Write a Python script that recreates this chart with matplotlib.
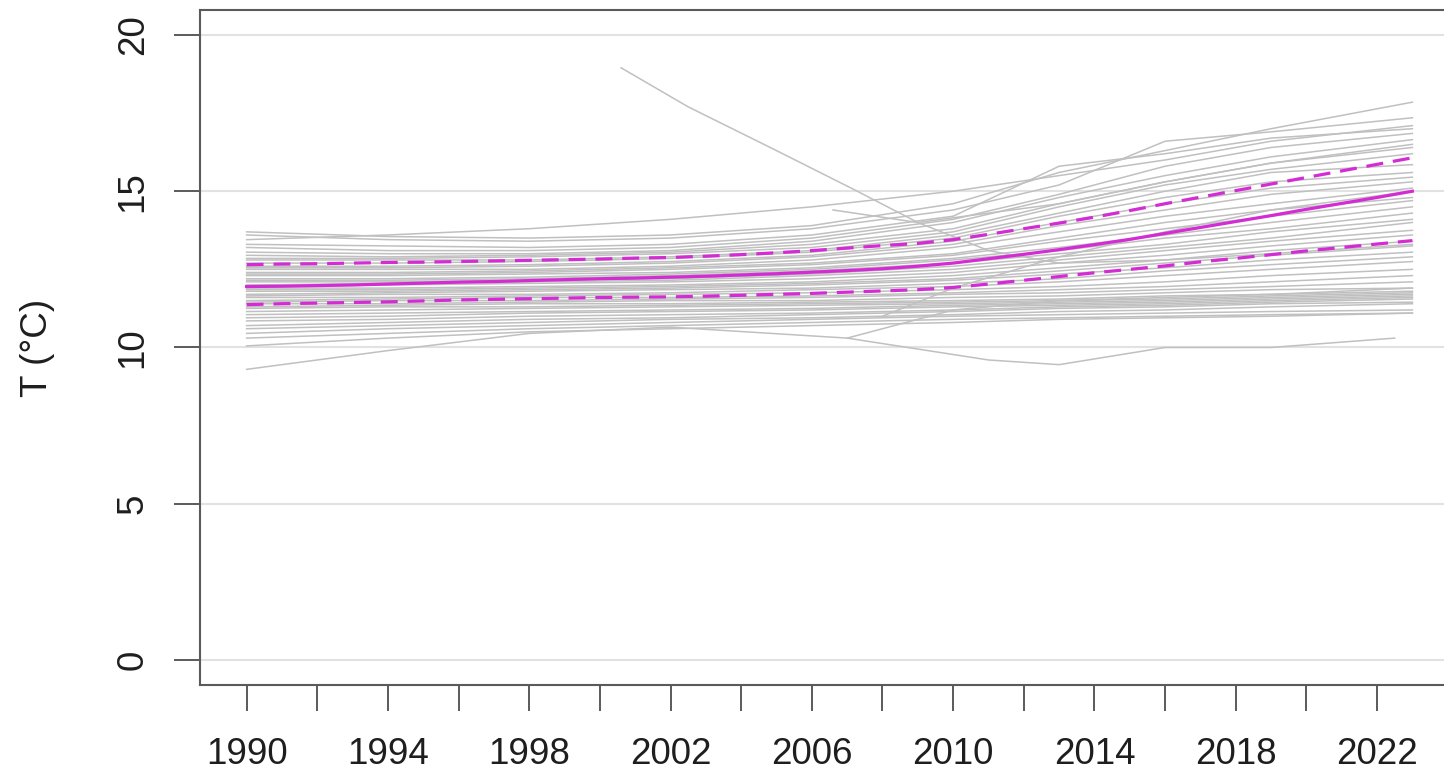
# plot.py
# Station temperature curves (grey) with the mean curve and its band (magenta).

import numpy as np
import matplotlib.pyplot as plt

plt.rcParams['font.family'] = ['Liberation Sans', 'DejaVu Sans']

# Knot years shared by the stations that cover the whole period.
knot_years = [1990, 1994, 1998, 2002, 2006, 2010, 2013, 2016, 2019, 2023]

# Smoothed station temperatures (deg C), one row per station.
station_temps = [
    [13.70, 13.55, 13.50, 13.60, 13.90, 14.60, 15.60, 16.30, 17.00, 17.85],
    [13.60, 13.45, 13.40, 13.50, 13.80, 14.40, 15.20, 16.60, 16.90, 17.35],
    [13.45, 13.60, 13.80, 14.10, 14.50, 15.00, 15.50, 16.00, 16.60, 17.10],
    [13.30, 13.25, 13.20, 13.30, 13.60, 14.20, 15.80, 16.20, 16.70, 17.00],
    [13.20, 13.10, 13.10, 13.20, 13.50, 14.10, 14.90, 15.80, 16.40, 16.85],
    [13.05, 13.00, 13.00, 13.10, 13.40, 14.00, 14.80, 15.50, 16.10, 16.65],
    [12.95, 12.90, 12.95, 13.05, 13.30, 13.80, 14.60, 15.30, 15.90, 16.50],
    [12.85, 12.85, 12.90, 13.00, 13.20, 13.70, 14.50, 15.20, 15.70, 16.20],
    [12.80, 12.80, 12.80, 12.90, 13.10, 13.60, 14.30, 15.00, 15.60, 15.85],
    [12.70, 12.70, 12.75, 12.85, 13.05, 13.50, 14.20, 14.80, 15.30, 15.60],
    [12.60, 12.60, 12.65, 12.75, 12.95, 13.40, 14.00, 14.60, 15.10, 15.45],
    [12.55, 12.55, 12.60, 12.70, 12.90, 13.30, 13.90, 14.40, 14.90, 15.30],
    [12.50, 12.50, 12.50, 12.60, 12.80, 13.20, 13.70, 14.20, 14.60, 15.10],
    [12.40, 12.40, 12.45, 12.55, 12.70, 13.00, 13.50, 14.00, 14.40, 14.80],
    [12.35, 12.35, 12.40, 12.50, 12.65, 12.95, 13.40, 13.80, 14.20, 14.70],
    [12.30, 12.30, 12.35, 12.40, 12.55, 12.85, 13.20, 13.60, 14.00, 14.50],
    [12.20, 12.20, 12.25, 12.35, 12.50, 12.80, 13.10, 13.50, 13.80, 14.30],
    [12.15, 12.15, 12.20, 12.30, 12.45, 12.70, 13.00, 13.30, 13.70, 14.10],
    [12.10, 12.10, 12.15, 12.20, 12.35, 12.60, 12.90, 13.20, 13.50, 14.00],
    [12.00, 12.05, 12.10, 12.15, 12.30, 12.50, 12.80, 13.10, 13.40, 13.75],
    [11.95, 12.00, 12.05, 12.10, 12.20, 12.40, 12.70, 12.95, 13.25, 13.60],
    [11.90, 11.90, 11.95, 12.00, 12.10, 12.30, 12.55, 12.80, 13.10, 13.40],
    [11.85, 11.85, 11.90, 11.95, 12.05, 12.20, 12.45, 12.70, 12.95, 13.25],
    [11.80, 11.80, 11.85, 11.90, 12.00, 12.15, 12.35, 12.55, 12.80, 13.05],
    [11.70, 11.75, 11.80, 11.85, 11.90, 12.05, 12.20, 12.45, 12.65, 12.90],
    [11.65, 11.70, 11.70, 11.75, 11.85, 11.95, 12.10, 12.30, 12.50, 12.75],
    [11.60, 11.60, 11.65, 11.70, 11.75, 11.85, 11.95, 12.10, 12.30, 12.50],
    [11.50, 11.55, 11.60, 11.60, 11.65, 11.75, 11.85, 11.95, 12.10, 12.30],
    [11.45, 11.50, 11.50, 11.55, 11.60, 11.70, 11.75, 11.85, 11.95, 12.10],
    [11.40, 11.40, 11.45, 11.50, 11.50, 11.60, 11.65, 11.75, 11.85, 11.90],
    [11.30, 11.35, 11.40, 11.40, 11.45, 11.50, 11.55, 11.65, 11.70, 11.80],
    [11.25, 11.30, 11.30, 11.35, 11.40, 11.45, 11.50, 11.55, 11.65, 11.75],
    [11.15, 11.20, 11.25, 11.30, 11.35, 11.40, 11.45, 11.50, 11.60, 11.70],
    [11.05, 11.10, 11.15, 11.20, 11.25, 11.35, 11.40, 11.45, 11.55, 11.65],
    [10.95, 11.00, 11.10, 11.15, 11.20, 11.30, 11.35, 11.40, 11.50, 11.60],
    [10.85, 10.90, 11.00, 11.05, 11.10, 11.20, 11.30, 11.35, 11.45, 11.55],
    [10.70, 10.80, 10.90, 10.95, 11.05, 11.15, 11.25, 11.30, 11.40, 11.45],
    [10.60, 10.70, 10.80, 10.90, 10.95, 11.05, 11.15, 11.20, 11.30, 11.40],
    [10.45, 10.60, 10.70, 10.80, 10.90, 11.00, 11.05, 11.10, 11.15, 11.20],
    [10.30, 10.45, 10.60, 10.70, 10.80, 10.90, 10.95, 11.00, 11.05, 11.10],
    [10.05, 10.30, 10.50, 10.60, 10.70, 10.80, 10.90, 10.95, 11.00, 11.10],
]

# Stations with their own years (short records and outliers).
low_years = [1990, 1994, 1998, 2002, 2007, 2011, 2013, 2016, 2019, 2022.5]
low_temps = [9.30, 9.90, 10.45, 10.65, 10.30, 9.60, 9.45, 10.00, 10.00, 10.30]
steep_years = [2000.6, 2002.5, 2005, 2007.2, 2009, 2011, 2013, 2016, 2019, 2023]
steep_temps = [18.95, 17.70, 16.30, 15.05, 14.00, 13.10, 12.70, 12.80, 13.00, 13.30]
late1_years = [2006.6, 2009, 2013, 2016, 2019, 2023]
late1_temps = [14.40, 14.00, 14.60, 15.30, 15.90, 16.40]
late2_years = [2007, 2010, 2013, 2016, 2019, 2023]
late2_temps = [10.30, 11.20, 11.50, 11.60, 11.70, 11.90]
late3_years = [2008, 2010, 2013, 2016, 2019, 2023]
late3_temps = [11.00, 11.90, 12.90, 13.70, 14.40, 15.00]

# Mean curve and band, one value per year.
years = list(range(1990, 2024))
mean_temp = [11.95, 11.96, 11.98, 12.00, 12.03, 12.06, 12.09, 12.11, 12.14, 12.17,
             12.20, 12.22, 12.25, 12.28, 12.32, 12.36, 12.41, 12.46, 12.52, 12.60,
             12.70, 12.84, 12.98, 13.13, 13.29, 13.46, 13.65, 13.84, 14.03, 14.22,
             14.42, 14.61, 14.80, 15.00]
upper_temp = [12.65, 12.67, 12.68, 12.70, 12.72, 12.73, 12.75, 12.77, 12.79, 12.81,
              12.83, 12.86, 12.88, 12.92, 12.97, 13.03, 13.10, 13.18, 13.26, 13.33,
              13.45, 13.62, 13.80, 13.98, 14.17, 14.38, 14.60, 14.81, 15.02, 15.23,
              15.44, 15.65, 15.86, 16.07]
lower_temp = [11.37, 11.40, 11.42, 11.44, 11.46, 11.49, 11.52, 11.54, 11.56, 11.58,
              11.60, 11.61, 11.62, 11.64, 11.67, 11.70, 11.73, 11.77, 11.81, 11.85,
              11.92, 12.03, 12.15, 12.27, 12.39, 12.50, 12.61, 12.74, 12.85, 12.97,
              13.09, 13.20, 13.31, 13.42]

y_ticks = [0, 5, 10, 15, 20]
x_ticks = list(range(1990, 2023, 2))
x_labels = [str(y) if (y - 1990) % 4 == 0 else '' for y in x_ticks]


def main():
    fig = plt.figure(figsize=(14.44, 7.79), dpi=100)
    ax = fig.add_axes([0.1385, 0.1207, 0.8719, 0.8665])

    # Horizontal reference lines.
    for h in y_ticks:
        ax.axhline(h, color='#e2e2e2', lw=1.5, zorder=0)

    # Grey station curves.
    grey = '#c0c0c0'
    for row in station_temps:
        ax.plot(knot_years, row, color=grey, lw=1.1, zorder=1)
    for xs, ys in [(low_years, low_temps), (steep_years, steep_temps),
                   (late1_years, late1_temps), (late2_years, late2_temps),
                   (late3_years, late3_temps)]:
        ax.plot(xs, ys, color=grey, lw=1.1, zorder=1)

    # Mean and band.
    mag = '#d42cd4'
    ax.plot(years, mean_temp, color=mag, lw=2.3, zorder=3)
    ax.plot(years, upper_temp, color=mag, lw=2.3, dashes=(5.3, 3.1), zorder=3)
    ax.plot(years, lower_temp, color=mag, lw=2.3, dashes=(5.3, 3.1), zorder=3)

    ax.set_xlim(1988.68, 2024.32)
    ax.set_ylim(-0.8, 20.8)
    ax.set_xticks(x_ticks)
    ax.set_xticklabels(x_labels)
    ax.set_yticks(y_ticks)
    ax.set_yticklabels([str(v) for v in y_ticks], rotation=90, va='center')

    frame = '#5a5a5a'
    for s in ax.spines.values():
        s.set_color(frame)
        s.set_linewidth(1.5)
    ax.tick_params(axis='both', length=18.5, width=1.4, color=frame,
                   labelsize=26.5, labelcolor='#1e1e1e')
    ax.tick_params(axis='x', pad=19)
    ax.tick_params(axis='y', pad=17)

    ax.set_ylabel('T (°C)', fontsize=26.5, color='#1e1e1e')
    ax.yaxis.set_label_coords(-0.115, 0.5)

    fig.savefig('out.png', dpi=100)


main()
